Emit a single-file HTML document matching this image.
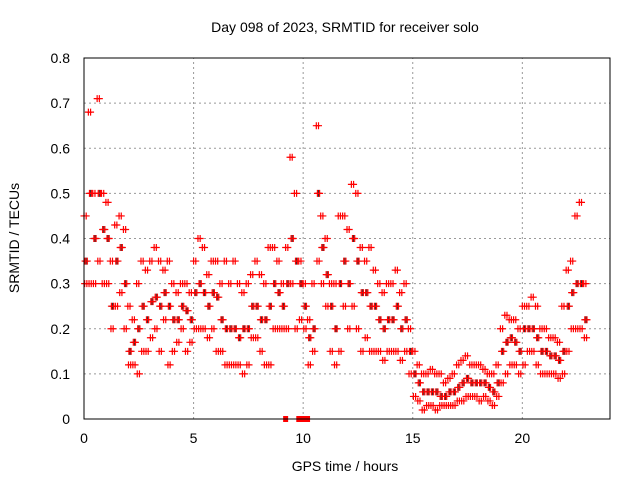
<!DOCTYPE html>
<html><head><meta charset="utf-8"><style>
body{margin:0;background:#fff}
svg{display:block;font-family:"Liberation Sans",sans-serif}
</style></head><body>
<svg id="chart" width="640" height="480">
<text x="345" y="32" font-size="14" text-anchor="middle">Day 098 of 2023, SRMTID for receiver solo</text>
<text x="345" y="471" font-size="14" text-anchor="middle">GPS time / hours</text>
<text transform="translate(19,238) rotate(-90)" font-size="14" text-anchor="middle">SRMTID / TECUs</text>
<g id="grid"></g><g id="marks"></g><g id="axes"></g>
</svg>
<script>
const xTicks=[0,5,10,15,20];
const yTicks=[0,0.1,0.2,0.3,0.4,0.5,0.6,0.7,0.8];
const yTickLabels=["0","0.1","0.2","0.3","0.4","0.5","0.6","0.7","0.8"];
const tStart=0, tStep=0.2;
const hiVals=[0.45,0.68,0.5,0.71,0.5,0.48,0.35,0.43,0.45,0.42,0.25,0.22,0.3,0.35,0.33,0.35,0.38,0.35,0.33,0.35,0.3,0.28,0.3,0.3,0.28,0.35,0.4,0.38,0.32,0.35,0.35,0.3,0.35,0.3,0.35,0.3,0.28,0.3,0.32,0.35,0.32,0.3,0.38,0.38,0.35,0.3,0.38,0.58,0.5,0.35,0.3,0.22,0.3,0.65,0.45,0.4,0.3,0.3,0.45,0.45,0.42,0.52,0.5,0.38,0.35,0.38,0.33,0.3,0.28,0.3,0.3,0.33,0.28,0.3,0.2,0.15,0.12,0.1,0.1,0.11,0.1,0.1,0.08,0.09,0.1,0.12,0.13,0.14,0.12,0.12,0.12,0.11,0.1,0.1,0.12,0.2,0.23,0.22,0.22,0.2,0.25,0.25,0.27,0.25,0.2,0.2,0.18,0.18,0.17,0.25,0.33,0.35,0.45,0.48,0.3];
const midVals=[0.35,0.5,0.4,0.5,0.42,0.4,0.25,0.35,0.38,0.3,0.15,0.17,0.2,0.25,0.22,0.26,0.27,0.25,0.28,0.25,0.22,0.22,0.25,0.24,0.22,0.28,0.3,0.28,0.25,0.28,0.27,0.22,0.2,0.2,0.2,0.18,0.2,0.2,0.25,0.25,0.22,0.22,0.25,0.3,0.28,0.25,0.3,0.4,0.35,0.3,0.25,0.18,0.2,0.5,0.38,0.32,0.25,0.2,0.3,0.35,0.3,0.4,0.35,0.28,0.28,0.25,0.25,0.22,0.2,0.22,0.22,0.25,0.2,0.22,0.15,0.1,0.08,0.06,0.06,0.06,0.06,0.05,0.05,0.06,0.06,0.07,0.08,0.09,0.08,0.08,0.08,0.08,0.07,0.06,0.08,0.15,0.17,0.18,0.17,0.15,0.2,0.2,0.2,0.18,0.15,0.15,0.14,0.14,0.13,0.15,0.25,0.28,0.3,0.3,0.22];
const loVals=[0.3,0.3,0.3,0.35,0.3,0.3,0.2,0.25,0.28,0.2,0.12,0.12,0.1,0.15,0.15,0.18,0.2,0.15,0.22,0.12,0.15,0.17,0.2,0.15,0.17,0.2,0.2,0.2,0.18,0.2,0.15,0.15,0.12,0.12,0.12,0.12,0.1,0.12,0.18,0.18,0.15,0.12,0.12,0.2,0.2,0.2,0.2,0.3,0.2,0.22,0.2,0.12,0.15,0.35,0.3,0.25,0.15,0.12,0.15,0.25,0.2,0.25,0.2,0.15,0.18,0.15,0.15,0.15,0.13,0.15,0.15,0.15,0.13,0.15,0.1,0.05,0.04,0.02,0.03,0.03,0.02,0.03,0.03,0.03,0.03,0.04,0.04,0.05,0.05,0.05,0.04,0.05,0.04,0.03,0.05,0.08,0.1,0.12,0.12,0.1,0.12,0.15,0.15,0.12,0.1,0.1,0.1,0.1,0.09,0.1,0.15,0.2,0.2,0.2,0.18];
const zeroTimes=[9.2,9.8,9.9,10.0,10.1,10.2];

const X0=84,X1=610,Y0=419,Y1=58,TMAX=24,VMAX=0.8;
const xs=t=>X0+(t/TMAX)*(X1-X0);
const ys=v=>Y0-(v/VMAX)*(Y0-Y1);
const NS="http://www.w3.org/2000/svg";
function mk(tag,attrs,parent){const e=document.createElementNS(NS,tag);for(const k in attrs)e.setAttribute(k,attrs[k]);parent.appendChild(e);return e;}
const grid=document.getElementById('grid'),axes=document.getElementById('axes'),marks=document.getElementById('marks');
xTicks.forEach((t,i)=>{
  if(t>0){const l=mk('line',{x1:xs(t),x2:xs(t),y1:Y0,y2:Y1,stroke:'#999','stroke-dasharray':'2,3','stroke-width':1},grid);
  
  }
  const tx=mk('text',{x:xs(t),y:Y0+24,'font-size':14,'text-anchor':'middle'},axes);tx.textContent=String(t);
  
  
});
yTicks.forEach((v,i)=>{
  if(v>0&&v<VMAX){const l=mk('line',{x1:X0,x2:X1,y1:ys(v),y2:ys(v),stroke:'#999','stroke-dasharray':'2,3','stroke-width':1},grid);
  
  }
  const tx=mk('text',{x:X0-14,y:ys(v)+5,'font-size':14,'text-anchor':'end'},axes);tx.textContent=yTickLabels[i];
  
  
});
const frame=mk('rect',{x:X0,y:Y1,width:X1-X0,height:Y0-Y1,fill:'none',stroke:'#000','stroke-width':1},axes);


function cross(t,v,color,name){
  const x=xs(t),y=ys(v);
  const p=mk('path',{d:`M${x-3.5},${y}H${x+3.5}M${x},${y-3.5}V${y+3.5}`,stroke:color,'stroke-width':1.2,fill:'none'},marks);
  
  
}
midVals.forEach((v,i)=>{const t=tStart+i*tStep+0.1;cross(t,v,'#333','black-point');});
hiVals.forEach((v,i)=>{const t=tStart+i*tStep;cross(t,v,'#f00','red-point');cross(t+0.1,v,'#f00','red-point');});
midVals.forEach((v,i)=>{const t=tStart+i*tStep+0.05;cross(t,v,'#f00','red-point');cross(t+0.1,v,'#f00','red-point');});
loVals.forEach((v,i)=>{const t=tStart+i*tStep+0.03;cross(t,v,'#f00','red-point');cross(t+0.1,v,'#f00','red-point');});
zeroTimes.forEach(t=>{
  const r=mk('rect',{x:xs(t)-2.5,y:Y0-3,width:5,height:6,fill:'#f00'},marks);
  
  
});
</script>
</body></html>
